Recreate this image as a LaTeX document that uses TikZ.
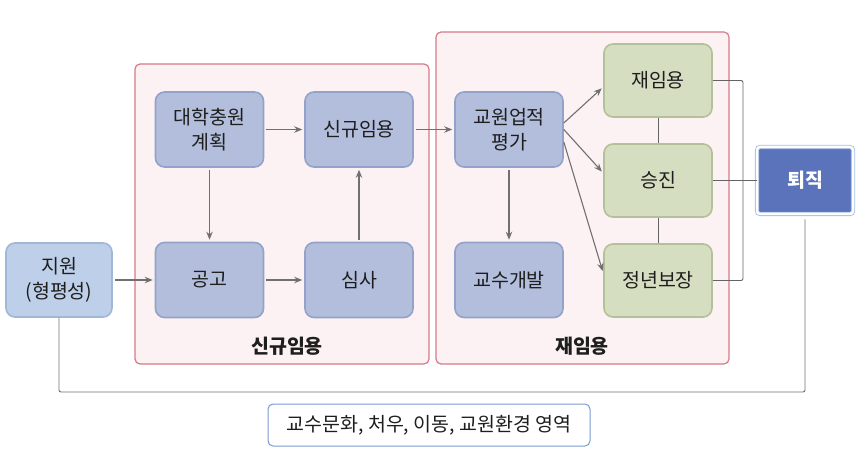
\documentclass[tikz,border=0pt]{standalone}
\usepackage{fontspec}
\setmainfont{Noto Sans CJK KR}
\usetikzlibrary{arrows.meta}
\definecolor{bluebox}{RGB}{178,190,220}
\definecolor{blueedge}{RGB}{148,162,202}
\definecolor{greenbox}{RGB}{214,222,194}
\definecolor{greenedge}{RGB}{180,192,152}
\definecolor{lightblue}{RGB}{190,207,233}
\definecolor{lightblueedge}{RGB}{160,183,216}
\definecolor{pinkfill}{RGB}{253,242,243}
\definecolor{pinkedge}{RGB}{214,122,136}
\definecolor{retire}{RGB}{90,115,186}
\definecolor{retireedge}{RGB}{165,188,226}
\definecolor{arrowgray}{RGB}{112,112,112}
\definecolor{linegray}{RGB}{100,100,100}
\definecolor{textdark}{RGB}{30,30,30}
\definecolor{botedge}{RGB}{122,155,210}
\begin{document}
\begin{tikzpicture}[x=1pt,y=-1pt,
  box/.style={rounded corners=9pt, minimum width=108pt, minimum height=75pt, align=center,
    font=\fontsize{19.5}{25}\selectfont, text=textdark, inner sep=0pt, line width=1.6pt},
  bbox/.style={box, fill=bluebox, draw=blueedge},
  gbox/.style={box, fill=greenbox, draw=greenedge, minimum height=73pt},
  groupbox/.style={rounded corners=5pt, fill=pinkfill, draw=pinkedge, line width=1.2pt, inner sep=0pt},
  grouplabel/.style={font=\fontsize{19.5}{22}\selectfont\bfseries, text=textdark},
  arr/.style={-{Stealth[length=8pt,width=6.5pt]}, draw=arrowgray, line width=1.1pt, shorten <=2pt, shorten >=2pt},
  link/.style={draw=linegray, line width=0.9pt}
]
\useasboundingbox (0,0) rectangle (862,473);
% groups
\node[groupbox, minimum width=294pt, minimum height=300pt] (g1) at (282,214) {};
\node[groupbox, minimum width=293pt, minimum height=332pt] (g2) at (582.5,198) {};
\node[grouplabel] (g1lab) at (287,346) {신규임용};
\node[grouplabel] (g2lab) at (582,346) {재임용};
% nodes
\node[box, fill=lightblue, draw=lightblueedge, minimum width=106pt, minimum height=74pt] (sup) at (59,280) {지원\\(형평성)};
\node[bbox] (plan) at (209.5,129.5) {대학충원\\계획};
\node[bbox] (newhire) at (359,129.5) {신규임용};
\node[bbox] (notice) at (209.5,280) {공고};
\node[bbox] (review) at (359,280) {심사};
\node[bbox] (eval) at (509,129.5) {교원업적\\평가};
\node[bbox] (dev) at (509,280) {교수개발};
\node[gbox] (reapp) at (658,80.5) {재임용};
\node[gbox] (promo) at (658,180.5) {승진};
\node[gbox] (tenure) at (658,280.5) {정년보장};
\node[rounded corners=3pt, fill=retire, draw=retireedge, double=white, double distance=2.5pt, line width=0.8pt,
  minimum width=96pt, minimum height=67pt, text=white, font=\fontsize{19.5}{22}\selectfont\bfseries] (retire) at (805,180.5) {퇴직};
\node[rounded corners=5pt, fill=white, draw=botedge, line width=1pt, minimum width=322pt, minimum height=42pt,
  font=\fontsize{19.5}{22}\selectfont, text=textdark] (areas) at (429,425) {교수문화, 처우, 이동, 교원환경 영역};
% arrows
\draw[arr] (sup.east) -- (notice.west);
\draw[arr] (plan.east) -- (newhire.west);
\draw[arr] (plan.south) -- (notice.north);
\draw[arr] (notice.east) -- (review.west);
\draw[arr] (review.north) -- (newhire.south);
\draw[arr] (newhire.east) -- (eval.west);
\draw[arr] (eval.south) -- (dev.north);
\draw[arr, shorten <=0pt] ([yshift=6.5pt]eval.east) -- ([yshift=-6.5pt]reapp.west);
\draw[arr, shorten <=0pt] (eval.east) -- ([yshift=7.5pt]promo.west);
\draw[arr, shorten <=0pt] ([yshift=-12.5pt]eval.east) -- ([yshift=7.5pt]tenure.west);
% links
\draw[link] (reapp.south) -- (promo.north);
\draw[link] (promo.south) -- (tenure.north);
\coordinate (bx) at (743,80.5);
\draw[link, rounded corners=2pt] (reapp.east) -- (bx) |- (tenure.east);
\draw[link] (promo.east) -- (retire.west);
\coordinate (bl) at (59,392);
\coordinate (brr) at (805,392);
\draw[draw=arrowgray, line width=0.9pt, rounded corners=2pt, shorten >=5pt] (sup.south) -- (bl) -- (brr) -- (retire.south);
\end{tikzpicture}
\end{document}
